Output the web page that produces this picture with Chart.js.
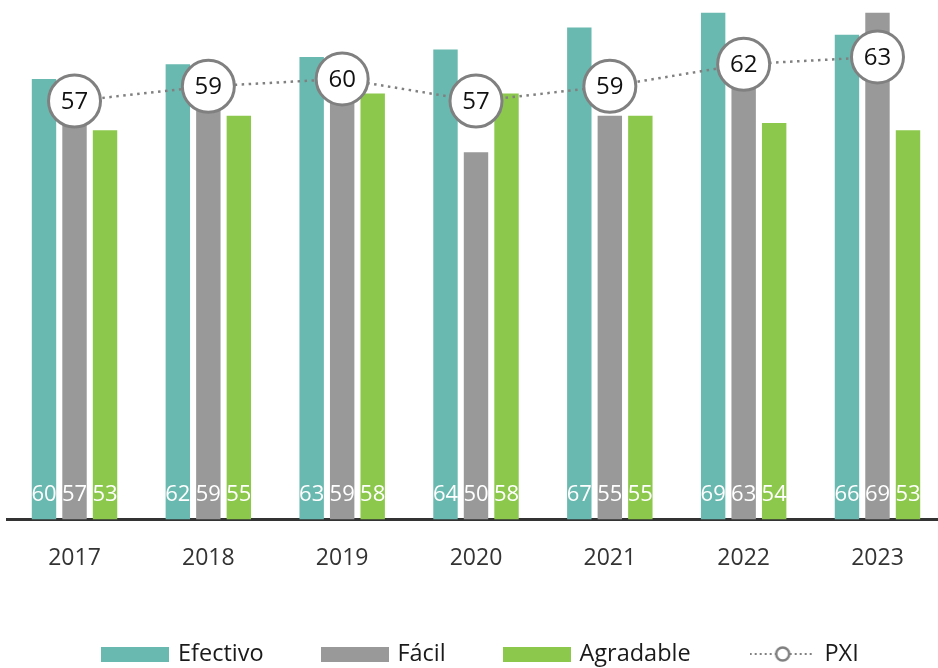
<!DOCTYPE html>
<html>
<head>
<meta charset="utf-8">
<script src="https://cdn.jsdelivr.net/npm/chart.js@4/dist/chart.umd.min.js"></script>
<style>
  html, body { margin: 0; padding: 0; background: #fff; overflow: hidden; }
  #wrap { width: 938px; height: 668px; overflow: hidden; }
  #c { display: block; }
</style>
</head>
<body>
<div id="wrap"><canvas id="c" width="956" height="668"></canvas></div>
<script>
// Yearly scores per dimension, plus the overall PXI index
const years = ['2017', '2018', '2019', '2020', '2021', '2022', '2023'];
const efectivo = [60, 62, 63, 64, 67, 69, 66];
const facil = [57, 59, 59, 50, 55, 63, 69];
const agradable = [53, 55, 58, 58, 55, 54, 53];
const pxi = [57, 59, 60, 57, 59, 62, 63];

const seriesNames = ['Efectivo', 'Fácil', 'Agradable', 'PXI'];
const COLORS = { efectivo: '#69b9b0', facil: '#999999', agradable: '#8cc84b', pxi: '#808080' };
const FONT = "'Open Sans', 'Noto Sans', sans-serif";

// Legend swatches: a flat bar for the bar series, a dotted line with a ring for PXI
function barSwatch(color) {
  const cv = document.createElement('canvas');
  cv.width = 68; cv.height = 15;
  const g = cv.getContext('2d');
  g.fillStyle = color;
  g.fillRect(0, 0, 68, 15);
  return cv;
}
function lineSwatch(color) {
  const cv = document.createElement('canvas');
  cv.width = 64; cv.height = 20;
  const g = cv.getContext('2d');
  g.strokeStyle = color;
  g.lineWidth = 2;
  g.setLineDash([2, 3]);
  g.beginPath(); g.moveTo(0, 10); g.lineTo(64, 10); g.stroke();
  g.setLineDash([]);
  g.lineWidth = 2.5;
  g.fillStyle = '#fff';
  g.beginPath(); g.arc(33, 10, 6.5, 0, Math.PI * 2); g.fill(); g.stroke();
  return cv;
}

// Value labels: white numbers at the foot of each bar, dark numbers inside the PXI rings
const valueLabels = {
  id: 'valueLabels',
  afterDatasetsDraw(chart) {
    const ctx = chart.ctx;
    const bottom = chart.chartArea.bottom;
    ctx.save();
    ctx.textAlign = 'center';
    ctx.textBaseline = 'middle';
    chart.data.datasets.forEach((ds, i) => {
      const meta = chart.getDatasetMeta(i);
      meta.data.forEach((el, j) => {
        const v = ds.data[j];
        if (ds.type === 'line') {
          ctx.fillStyle = '#111';
          ctx.font = '24px ' + FONT;
          ctx.fillText(String(v), el.x, el.y + 1);
        } else {
          ctx.fillStyle = '#ffffff';
          ctx.font = '22px ' + FONT;
          ctx.fillText(String(v), el.x, bottom - 25);
        }
      });
    });
    ctx.restore();
  }
};

function draw() {
  Chart.defaults.font.family = FONT;
  const swatches = [
    barSwatch(COLORS.efectivo),
    barSwatch(COLORS.facil),
    barSwatch(COLORS.agradable),
    lineSwatch(COLORS.pxi)
  ];

  new Chart(document.getElementById('c'), {
    type: 'bar',
    data: {
      labels: years,
      datasets: [
        { label: seriesNames[0], data: efectivo, backgroundColor: COLORS.efectivo, order: 1,
          categoryPercentage: 0.684, barPercentage: 0.8 },
        { label: seriesNames[1], data: facil, backgroundColor: COLORS.facil, order: 1,
          categoryPercentage: 0.684, barPercentage: 0.8 },
        { label: seriesNames[2], data: agradable, backgroundColor: COLORS.agradable, order: 1,
          categoryPercentage: 0.684, barPercentage: 0.8 },
        { type: 'line', label: seriesNames[3], data: pxi, order: 0, clip: false,
          borderColor: COLORS.pxi, borderWidth: 2.5, borderDash: [2.5, 4.5], tension: 0,
          pointRadius: 26, pointHoverRadius: 26, pointBorderWidth: 3,
          pointBackgroundColor: '#ffffff', pointBorderColor: COLORS.pxi, fill: false }
      ]
    },
    options: {
      responsive: false,
      devicePixelRatio: 1,
      animation: false,
      events: [],
      layout: { autoPadding: false, padding: { top: 5.5, left: 7.6, right: 0.6, bottom: 0 } },
      scales: {
        x: {
          offset: true,
          grid: { display: false, drawTicks: false },
          border: { display: true, color: '#333333', width: 3 },
          ticks: { color: '#333333', font: { size: 23 }, padding: 25 },
          afterFit(scale) { scale.height = 62.75; }
        },
        // value axis: not drawn, only reserves a narrow blank strip on the right
        y: {
          display: true, position: 'right', min: 0, max: 70,
          grid: { display: false, drawTicks: false },
          border: { display: false },
          ticks: { display: false },
          afterFit(scale) { scale.width = 11; }
        }
      },
      plugins: {
        tooltip: { enabled: false },
        legend: {
          position: 'bottom',
          maxHeight: 85.75,
          labels: {
            usePointStyle: true,
            pointStyleWidth: 62,
            padding: 60,
            color: '#1a1a1a',
            font: { size: 23.5 },
            generateLabels(chart) {
              return chart.data.datasets.map((ds, i) => ({
                text: ds.label,
                pointStyle: swatches[i],
                fillStyle: 'transparent',
                strokeStyle: 'transparent',
                lineWidth: 0,
                hidden: false,
                datasetIndex: i,
                fontColor: '#1a1a1a'
              }));
            }
          }
        }
      }
    },
    plugins: [valueLabels]
  });
}

if (document.fonts && document.fonts.load) {
  document.fonts.load("23px 'Open Sans'").then(draw, draw);
} else {
  draw();
}
</script>
</body>
</html>
